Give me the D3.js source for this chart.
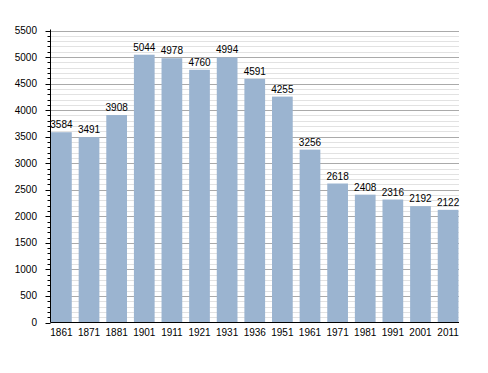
<!DOCTYPE html>
<html>
<head>
<meta charset="utf-8">
<script src="https://cdn.jsdelivr.net/npm/d3@7"></script>
<style>
body { margin: 0; background: #fff; }
text { font-family: "Liberation Sans", Arial, sans-serif; font-size: 10px; fill: #000; }
</style>
</head>
<body>
<svg width="488" height="373"></svg>
<script>
var years = ["1861","1871","1881","1901","1911","1921","1931","1936","1951","1961","1971","1981","1991","2001","2011"];
var population = [3584,3491,3908,5044,4978,4760,4994,4591,4255,3256,2618,2408,2316,2192,2122];
var yTicks = [0,500,1000,1500,2000,2500,3000,3500,4000,4500,5000,5500];

var svg = d3.select("svg");
var plotL = 50.5, plotR = 459, plotT = 30.5, plotB = 322.5;

var x = d3.scaleBand().domain(years).range([plotL, plotR]).paddingInner(0.25).paddingOuter(0.02);
var y = d3.scaleLinear().domain([0, 5500]).range([plotB, plotT]);

// minor grid every 100
svg.append("g").selectAll("line")
  .data(d3.range(100, 5500, 100).filter(function(v) { return v % 500 != 0; }))
  .enter().append("line")
  .attr("x1", plotL).attr("x2", plotR)
  .attr("y1", function(d) { return Math.round(y(d)) + 0.5; })
  .attr("y2", function(d) { return Math.round(y(d)) + 0.5; })
  .attr("stroke", "#e2e2e2");

// major grid every 500
svg.append("g").selectAll("line")
  .data(yTicks.slice(1))
  .enter().append("line")
  .attr("x1", plotL).attr("x2", plotR)
  .attr("y1", function(d) { return Math.round(y(d)) + 0.5; })
  .attr("y2", function(d) { return Math.round(y(d)) + 0.5; })
  .attr("stroke", "#aaaaaa");

svg.append("g").selectAll("rect")
  .data(population)
  .enter().append("rect")
  .attr("x", function(d, i) { return x(years[i]); })
  .attr("y", function(d) { return y(d); })
  .attr("width", x.bandwidth())
  .attr("height", function(d) { return plotB - y(d); })
  .attr("fill", "#9bb4d0");

svg.append("g").selectAll("text")
  .data(population)
  .enter().append("text")
  .attr("x", function(d, i) { return x(years[i]) + x.bandwidth() / 2; })
  .attr("y", function(d) { return y(d) - 4; })
  .attr("text-anchor", "middle")
  .text(function(d) { return d; });

// y axis with minor ticks
var ax = svg.append("g");
ax.selectAll("line.minor")
  .data(d3.range(100, 5500, 100))
  .enter().append("line")
  .attr("x1", plotL - 3).attr("x2", plotL)
  .attr("y1", function(d) { return Math.round(y(d)) + 0.5; })
  .attr("y2", function(d) { return Math.round(y(d)) + 0.5; })
  .attr("stroke", "#000");
ax.selectAll("line.major")
  .data(yTicks)
  .enter().append("line")
  .attr("x1", plotL - 5).attr("x2", plotL)
  .attr("y1", function(d) { return Math.round(y(d)) + 0.5; })
  .attr("y2", function(d) { return Math.round(y(d)) + 0.5; })
  .attr("stroke", "#000");
ax.selectAll("text")
  .data(yTicks)
  .enter().append("text")
  .attr("x", 37)
  .attr("y", function(d) { return y(d) + 3.5; })
  .attr("text-anchor", "end")
  .text(function(d) { return d; });
ax.append("line")
  .attr("x1", plotL).attr("x2", plotL).attr("y1", plotT - 1).attr("y2", plotB)
  .attr("stroke", "#000");

// x axis
svg.append("line")
  .attr("x1", plotL).attr("x2", plotR).attr("y1", plotB).attr("y2", plotB)
  .attr("stroke", "#000");
svg.append("g").selectAll("text")
  .data(years)
  .enter().append("text")
  .attr("x", function(d) { return x(d) + x.bandwidth() / 2; })
  .attr("y", 336)
  .attr("text-anchor", "middle")
  .text(function(d) { return d; });
</script>
</body>
</html>
